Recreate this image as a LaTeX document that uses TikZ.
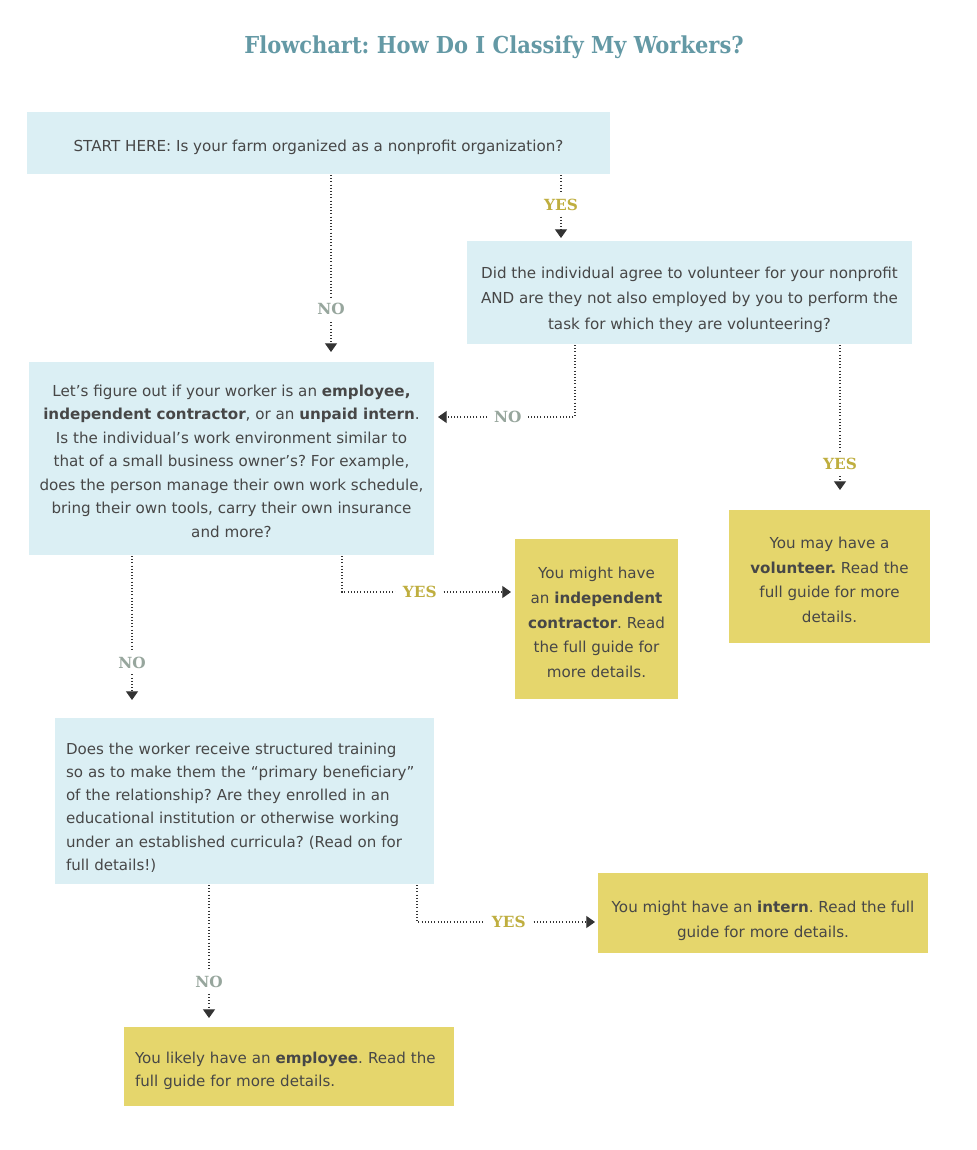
\documentclass[tikz,border=0pt]{standalone}
\usepackage{fontspec}
\setmainfont{DejaVu Sans}
\newfontfamily\slab{DejaVu Serif}
\newfontfamily\slabc{DejaVu Serif Condensed}
\usetikzlibrary{arrows.meta,calc}
\definecolor{lblue}{HTML}{DBEFF4}
\definecolor{yel}{HTML}{E5D66C}
\definecolor{txt}{HTML}{474747}
\definecolor{ttl}{HTML}{6499A5}
\definecolor{yescol}{HTML}{BFAE3F}
\definecolor{nocol}{HTML}{97A69D}
\definecolor{linecol}{HTML}{333333}
\frenchspacing
\begin{document}
\begin{tikzpicture}[x=0.75pt,y=-0.75pt,
  box/.style={inner sep=0pt, outer sep=0pt, anchor=center},
  bluebox/.style={box, fill=lblue},
  yelbox/.style={box, fill=yel},
  txtc/.style={inner sep=0pt, outer sep=0pt, text=txt, align=center, anchor=center},
  txtl/.style={inner sep=0pt, outer sep=0pt, text=txt, align=left, anchor=center},
  conn/.style={draw=linecol, line width=0.8pt, dash pattern=on 0.8pt off 1.6pt,
    -{Triangle[width=9pt,length=6.5pt]}},
  lbl/.style={font=\slab\bfseries\fontsize{11.5}{12}\selectfont, fill=white, inner xsep=5pt, inner ysep=4pt},
  yeslbl/.style={lbl, text=yescol},
  nolbl/.style={lbl, text=nocol}]
\useasboundingbox[fill=white] (0,0) rectangle (977,1150);

\node[anchor=base, text=ttl, font=\slabc\bfseries\fontsize{17.5}{21}\selectfont] (title) at (494,53) {Flowchart: How Do I Classify My Workers?};

% boxes
\node[bluebox, minimum width=437.25pt, minimum height=46.5pt] (b1) at (318.5,143) {};
\node[bluebox, minimum width=333.75pt, minimum height=77.25pt] (b2) at (689.5,292.5) {};
\node[bluebox, minimum width=303.75pt, minimum height=144.75pt] (b3) at (231.5,458.5) {};
\node[yelbox, minimum width=122.25pt, minimum height=120pt] (b4) at (596.5,619) {};
\node[yelbox, minimum width=150.75pt, minimum height=99.75pt] (b5) at (829.5,576.5) {};
\node[bluebox, minimum width=284.25pt, minimum height=124.5pt] (b6) at (244.5,801) {};
\node[yelbox, minimum width=247.5pt, minimum height=60pt] (b7) at (763,913) {};
\node[yelbox, minimum width=247.5pt, minimum height=59.25pt] (b8) at (289,1066.5) {};

% texts
\node[txtc, font=\fontsize{11.35}{17}\selectfont] (t1) at (318.5,147)
  {START HERE: Is your farm organized as a nonprofit organization?};

\node[txtc, font=\fontsize{11.35}{19.1}\selectfont] (t2) at (689.5,299.5)
  {Did the individual agree to volunteer for your nonprofit\\
   AND are they not also employed by you to perform the\\
   task for which they are volunteering?};

\node[txtc, font=\fontsize{11.35}{17.6}\selectfont] (t3) at (231.5,461)
  {Let’s figure out if your worker is an \textbf{employee,}\\
   \textbf{independent contractor}, or an \textbf{unpaid intern}.\\
   Is the individual’s work environment similar to\\
   that of a small business owner’s? For example,\\
   does the person manage their own work schedule,\\
   bring their own tools, carry their own insurance\\
   and more?};

\node[txtc, font=\fontsize{11.35}{18.6}\selectfont] (t4) at (596.5,622.5)
  {You might have\\
   an \textbf{independent}\\
   \textbf{contractor}. Read\\
   the full guide for\\
   more details.};

\node[txtc, font=\fontsize{11.35}{18.5}\selectfont] (t5) at (829.5,580)
  {You may have a\\
   \textbf{volunteer.} Read the\\
   full guide for more\\
   details.};

\node[txtl, text width=267.75pt, font=\fontsize{11.3}{17.4}\selectfont] (t6) at (244.5,807.5)
  {Does the worker receive structured training\\
   so as to make them the “primary beneficiary”\\
   of the relationship? Are they enrolled in an\\
   educational institution or otherwise working\\
   under an established curricula? (Read on for\\
   full details!)};

\node[txtc, font=\fontsize{11.35}{18.75}\selectfont] (t7) at (763,920.5)
  {You might have an \textbf{intern}. Read the full\\
   guide for more details.};

\node[txtl, text width=231pt, font=\fontsize{11.3}{17.25}\selectfont] (t8) at (289,1070.5)
  {You likely have an \textbf{employee}. Read the\\
   full guide for more details.};

% connectors
\draw[conn] ($(b1.south west)+(304,1)$) -- node[nolbl, pos=0.757] (l1) {NO} ($(b3.north west)+(302,-10)$);
\draw[conn] ($(b1.south west)+(534,1)$) -- node[yeslbl, pos=0.47] (l2) {YES} ($(b2.north west)+(94,-3)$);
\draw[conn] ($(b2.south west)+(108,1)$) |- node[nolbl, pos=0.745] (l3) {NO} ($(b3.north east)+(4,55)$);
\draw[conn] ($(b2.south west)+(373,1)$) -- node[yeslbl, pos=0.82] (l4) {YES} ($(b5.north west)+(111,-20)$);
\draw[conn] ($(b3.south west)+(313,1)$) |- node[yeslbl, pos=0.73] (l5) {YES} ($(b4.north west)+(-4,53)$);
\draw[conn] ($(b3.south west)+(103,1)$) -- node[nolbl, pos=0.745] (l6) {NO} ($(b6.north west)+(77,-18)$);
\draw[conn] ($(b6.south west)+(362,1)$) |- node[yeslbl, pos=0.758] (l7) {YES} ($(b7.north west)+(-3,49)$);
\draw[conn] ($(b6.south west)+(154,1)$) -- node[nolbl, pos=0.73] (l8) {NO} ($(b8.north west)+(85,-9)$);
\end{tikzpicture}
\end{document}
